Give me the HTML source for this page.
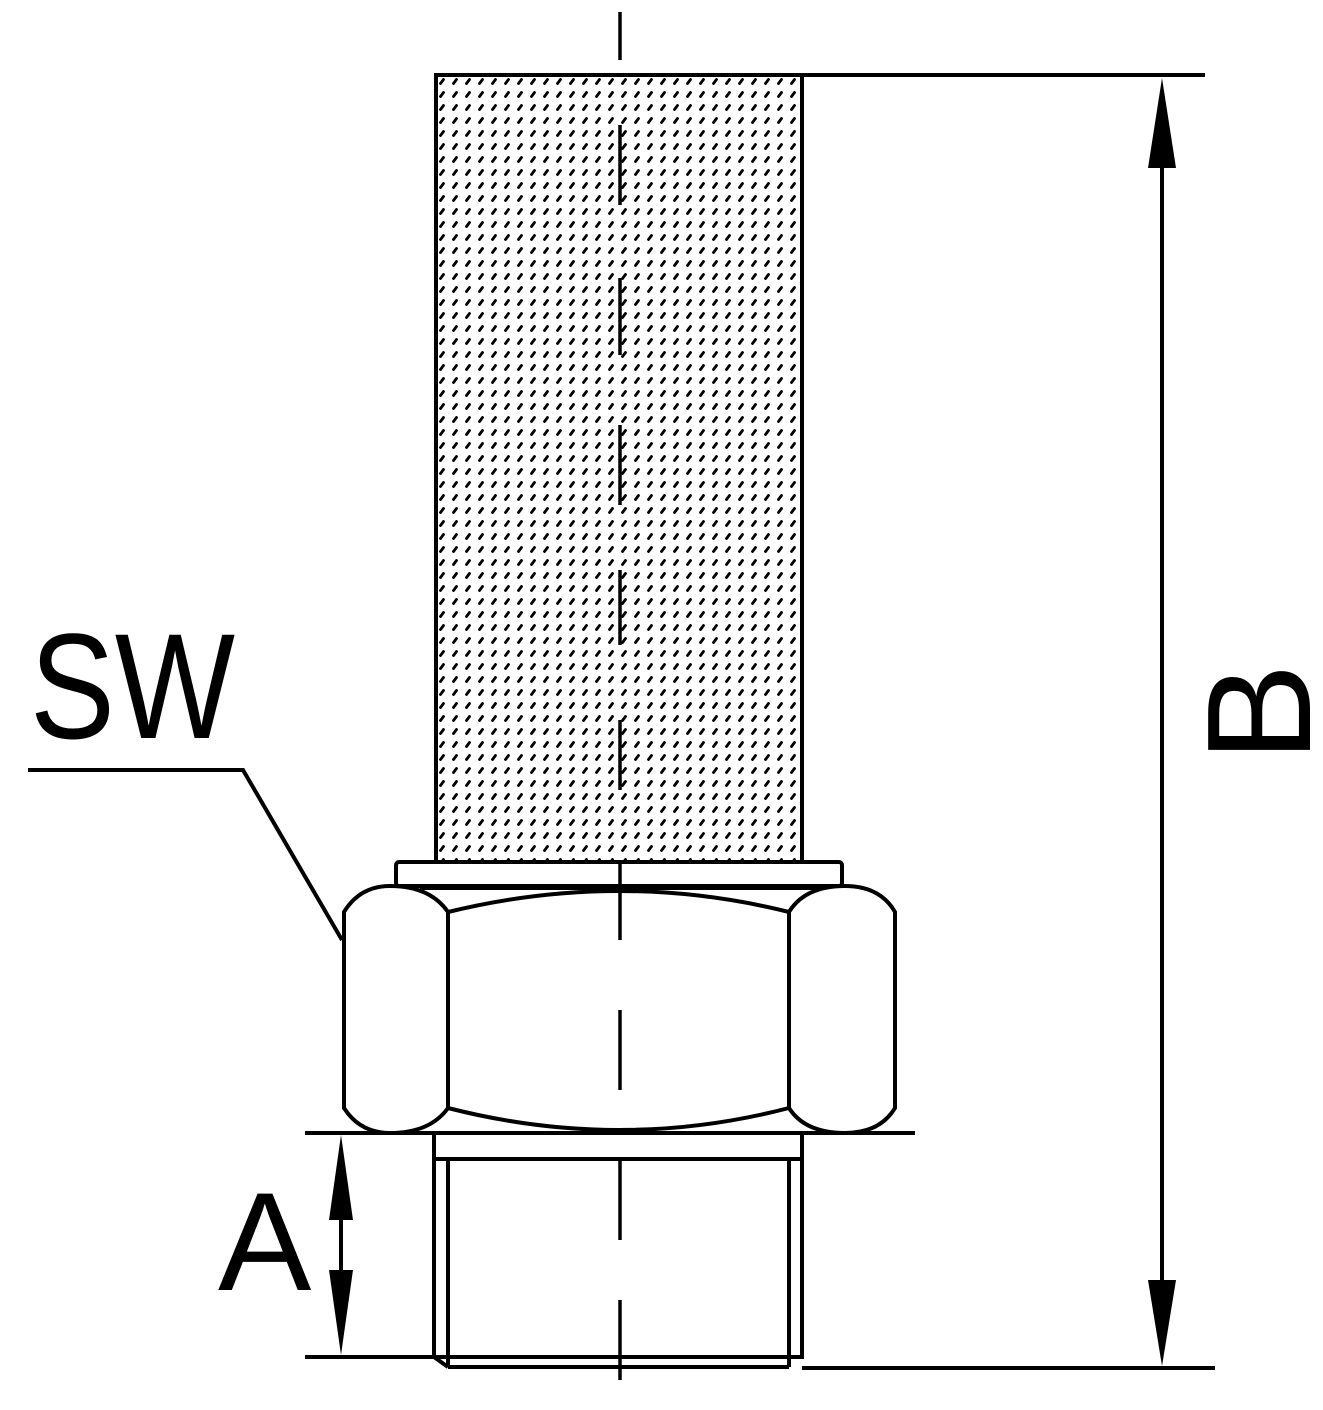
<!DOCTYPE html>
<html><head><style>
html,body{margin:0;padding:0;background:#fff;}
svg{display:block;}
text{font-family:"Liberation Sans",Arial,sans-serif;fill:#000;}
</style></head><body>
<svg width="1323" height="1410" viewBox="0 0 1323 1410" xmlns="http://www.w3.org/2000/svg">
<defs>
<pattern id="dots" x="436" y="75" width="13" height="13" patternUnits="userSpaceOnUse">
<line x1="4.5" y1="8.5" x2="7.5" y2="4.5" stroke="#000" stroke-width="2.8" stroke-linecap="round"/>
</pattern>
</defs>
<g fill="none" stroke="#000" stroke-width="4">
<rect x="436" y="75" width="366" height="787" fill="url(#dots)"/>
<rect x="436" y="75" width="366" height="787"/>
<rect x="396" y="862" width="446" height="24" rx="3" fill="#fff"/>
<path d="M344,912 Q360,886 390,886 Q430,886 448,912 L448,1108 Q430,1133 390,1133 Q360,1133 344,1108 Z" fill="#fff"/>
<path d="M895,912 Q880,886 845,886 Q805,886 789,912 L789,1108 Q805,1133 845,1133 Q880,1133 895,1108 Z" fill="#fff"/>
<path d="M448,912 Q620,870 789,912 L789,1108 Q620,1152 448,1108 Z" fill="#fff"/>
<line x1="420" y1="888" x2="820" y2="888"/>
<rect x="434" y="1133" width="368" height="224" fill="#fff"/>
<line x1="434" y1="1159" x2="802" y2="1159"/>
<line x1="448" y1="1159" x2="448" y2="1367"/>
<line x1="789" y1="1159" x2="789" y2="1367"/>
<line x1="434" y1="1357" x2="448" y2="1367"/>
<line x1="448" y1="1367" x2="789" y2="1367"/>
<line x1="802" y1="75" x2="1205" y2="75"/>
<line x1="802" y1="1368" x2="1215" y2="1368"/>
<line x1="1162" y1="120" x2="1162" y2="1320"/>
<line x1="305" y1="1133" x2="915" y2="1133"/>
<line x1="305" y1="1357" x2="440" y2="1357"/>
<line x1="341" y1="1170" x2="341" y2="1320"/>
<polyline points="28,770 243,770 342,940"/>
<g stroke-width="3.5">
<line x1="620" y1="12" x2="620" y2="60"/>
<line x1="620" y1="125" x2="620" y2="205"/>
<line x1="620" y1="278" x2="620" y2="355"/>
<line x1="620" y1="425" x2="620" y2="505"/>
<line x1="620" y1="570" x2="620" y2="645"/>
<line x1="620" y1="720" x2="620" y2="790"/>
<line x1="620" y1="860" x2="620" y2="940"/>
<line x1="620" y1="1010" x2="620" y2="1090"/>
<line x1="620" y1="1160" x2="620" y2="1240"/>
<line x1="620" y1="1300" x2="620" y2="1380"/>
</g>
</g>
<polygon points="1162,78 1148,168 1176,168" fill="#000"/>
<polygon points="1162,1366 1148,1280 1176,1280" fill="#000"/>
<polygon points="341,1135 329,1220 353,1220" fill="#000"/>
<polygon points="341,1355 329,1270 353,1270" fill="#000"/>
<text x="30" y="738" font-size="150" textLength="205" lengthAdjust="spacingAndGlyphs">SW</text>
<text x="218" y="1290" font-size="140">A</text>
<text x="0" y="0" font-size="148" transform="translate(1310,762) rotate(-90)">B</text>
</svg>
</body></html>
